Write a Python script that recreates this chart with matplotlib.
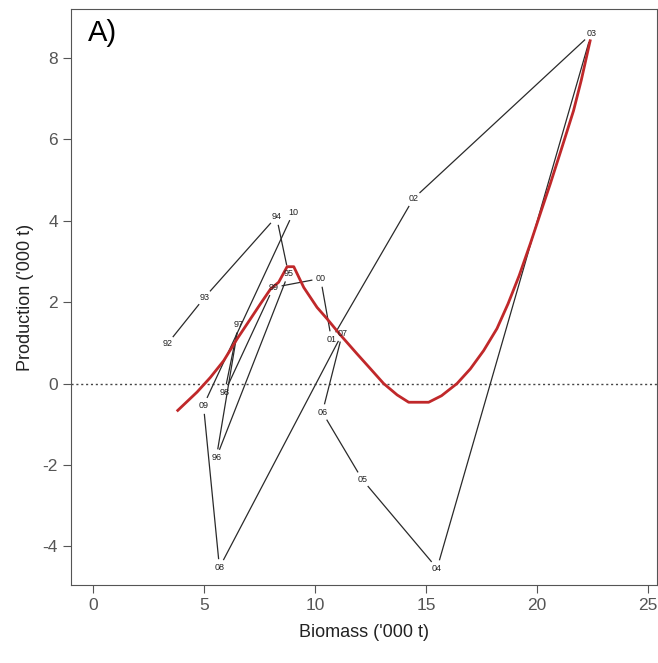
import numpy as np
import matplotlib
matplotlib.use("Agg")
import matplotlib.pyplot as plt

plt.rcParams['font.family'] = ['Liberation Sans', 'DejaVu Sans']
plt.rcParams['axes.unicode_minus'] = False

# yearly points (biomass, production), labelled by year
years = ['92', '93', '94', '95', '96', '97', '98', '99', '00', '01',
         '02', '03', '04', '05', '06', '07', '08', '09', '10']
biomass = [3.35, 5.01, 8.26, 8.80, 5.55, 6.55, 5.92, 8.12, 10.25, 10.74,
           14.43, 22.45, 15.50, 12.13, 10.33, 11.23, 5.69, 4.97, 9.02]
production = [0.98, 2.11, 4.10, 2.70, -1.82, 1.45, -0.22, 2.36, 2.58, 1.08,
              4.54, 8.59, -4.54, -2.36, -0.71, 1.23, -4.52, -0.54, 4.20]

# fitted curve (red)
fit_x = [3.81, 4.68, 5.28, 5.88, 6.49, 7.09, 7.54, 7.99, 8.36, 8.74, 9.04,
         9.49, 10.09, 10.54, 11.1, 11.89, 12.5, 13.09, 13.7, 14.22, 15.12,
         15.7, 16.4, 17.0, 17.6, 18.2, 18.7, 19.2, 19.7, 20.2, 20.6, 21.1,
         21.65, 22.0, 22.4]
fit_y = [-0.66, -0.21, 0.15, 0.56, 1.10, 1.59, 1.96, 2.32, 2.49, 2.87, 2.87,
         2.36, 1.87, 1.59, 1.22, 0.73, 0.36, 0.0, -0.28, -0.46, -0.46,
         -0.30, 0.0, 0.36, 0.81, 1.35, 1.96, 2.65, 3.43, 4.25, 4.9, 5.75,
         6.7, 7.45, 8.42]

fig = plt.figure(figsize=(6.58, 6.63), dpi=100)
ax = fig.add_axes([0.108, 0.1176, 0.89, 0.8688])
ax.set_xlim(-1.0, 25.4)
ax.set_ylim(-4.95, 9.2)

ax.axhline(0, color='#444444', linestyle=(0, (1.5, 2)), linewidth=1.0)

# connect successive years, leaving a gap round each label
gap = 9
pts = ax.transData.transform(np.column_stack([biomass, production]))
inv = ax.transData.inverted()
for i in range(len(pts) - 1):
    p0, p1 = pts[i], pts[i + 1]
    d = p1 - p0
    n = np.hypot(*d)
    if n <= 2 * gap:
        continue
    u = d / n
    a = inv.transform(p0 + u * gap)
    b = inv.transform(p1 - u * gap)
    ax.plot([a[0], b[0]], [a[1], b[1]], color='#2a2a2a', linewidth=0.9)

for yr, bx, py in zip(years, biomass, production):
    ax.text(bx, py, yr, fontsize=6.5, ha='center', va='center', color='#222222')

ax.plot(fit_x, fit_y, color='#c0282a', linewidth=2.0)

ax.set_xticks([0, 5, 10, 15, 20, 25])
ax.set_yticks([-4, -2, 0, 2, 4, 6, 8])
ax.tick_params(labelsize=12.5, colors='#555555', length=6, labelcolor='#555555')
for s in ax.spines.values():
    s.set_color('#555555')
ax.set_xlabel("Biomass ('000 t)", fontsize=13, color='#222222', labelpad=8)
ax.set_ylabel("Production ('000 t)", fontsize=13, color='#222222', labelpad=6)
ax.text(0.054, 0.958, 'A)', transform=ax.transAxes, fontsize=21, va='center', ha='center')

fig.savefig('out.png', dpi=100)
